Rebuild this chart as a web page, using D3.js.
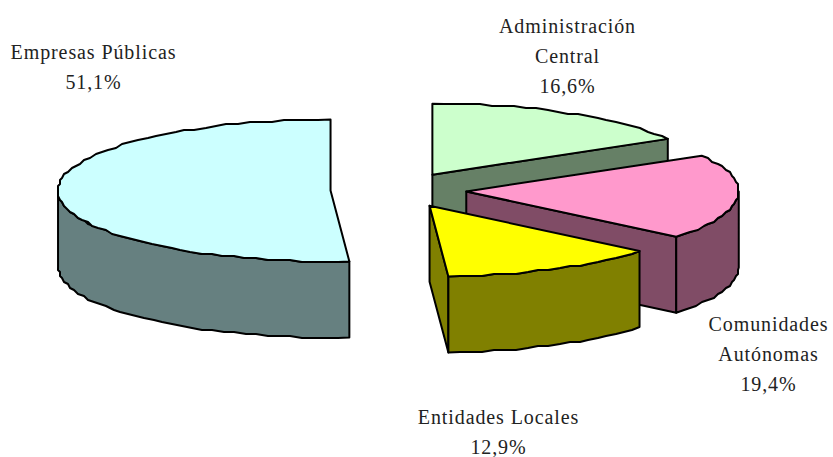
<!DOCTYPE html>
<html><head><meta charset="utf-8">
<script src="https://cdn.jsdelivr.net/npm/d3@7"></script>
<style>html,body{margin:0;padding:0;background:#fff}svg{display:block}
text{font-family:"Liberation Serif",serif;font-size:20px;fill:#222;letter-spacing:.9px}</style>
</head><body><svg id="c" width="833" height="457"></svg>
<script>
const categories = ["Administración Central","Comunidades Autónomas","Entidades Locales","Empresas Públicas"];
const values = [16.6,19.4,12.9,51.1];
const valueLabels = ["16,6%","19,4%","12,9%","51,1%"];
const topColors = ["#CCFFCC","#FF99CC","#FFFF00","#CCFFFF"];
const sideColors = ["#668066","#804C66","#808000","#668080"];
const labelLines = [["Administración","Central"],["Comunidades","Autónomas"],["Entidades Locales"],["Empresas Públicas"]];
const labelAnchors = [[567.5,33],[768.5,331],[498.5,423.5],[93.5,59]];

const cx=398.5, cy=190, rx=272.5, ry=71, depth=76, explode=68, lineH=30;
const svg=d3.select("#c");
const arcs=d3.pie().sort(null).value(d=>d)(values);
const sx=d3.scaleLinear().domain([-1,1]).range([-rx,rx]);
const sy=d3.scaleLinear().domain([-1,1]).range([ry,-ry]);
// unit pie point; angle clockwise from 12 o'clock
const px=(c,a)=>[c[0]+sx(Math.sin(a)),c[1]+sy(Math.cos(a))];
const arcPts=(c,a0,a1)=>{
  const n=Math.max(2,Math.ceil((a1-a0)/(Math.PI/72))),out=[];
  for(let i=0;i<=n;i++){
    const p=px(c,a0+(a1-a0)*i/n);
    out.push(i==0||i==n?p:[Math.round(p[0]/2)*2,Math.round(p[1]/2)*2]);
  }
  return out;
};
const line=d3.line();
const shape=(g,pts,fill)=>g.append("path").attr("d",line(pts)+"Z").attr("fill",fill)
  .attr("stroke","#000").attr("stroke-width",2).attr("stroke-linejoin","round");
const down=p=>[p[0],p[1]+depth];
const order=[3,0,1,2];
order.forEach(i=>{
  const d=arcs[i],mid=(d.startAngle+d.endAngle)/2;
  const c=[cx+sx(Math.sin(mid))*explode/rx,cy+sy(Math.cos(mid))*explode/rx];
  const g=svg.append("g");
  const side=sideColors[i];
  if(Math.sin(d.startAngle)<-1e-6){const e=px(c,d.startAngle);shape(g,[c,e,down(e),down(c)],side);}
  if(Math.sin(d.endAngle)>1e-6){const e=px(c,d.endAngle);shape(g,[c,e,down(e),down(c)],side);}
  const a0=Math.max(d.startAngle,Math.PI/2),a1=Math.min(d.endAngle,Math.PI*1.5);
  if(a1>a0){const p=arcPts(c,a0,a1);shape(g,p.concat(p.slice().reverse().map(down)),side);}
  shape(g,[c].concat(arcPts(c,d.startAngle,d.endAngle)),topColors[i]);
});
categories.forEach((n,i)=>{
  const t=svg.append("text").attr("text-anchor","middle");
  labelLines[i].concat(valueLabels[i]).forEach((s,k)=>{
    t.append("tspan").attr("x",labelAnchors[i][0]).attr("y",labelAnchors[i][1]+k*lineH).text(s);
  });
});
</script></body></html>
